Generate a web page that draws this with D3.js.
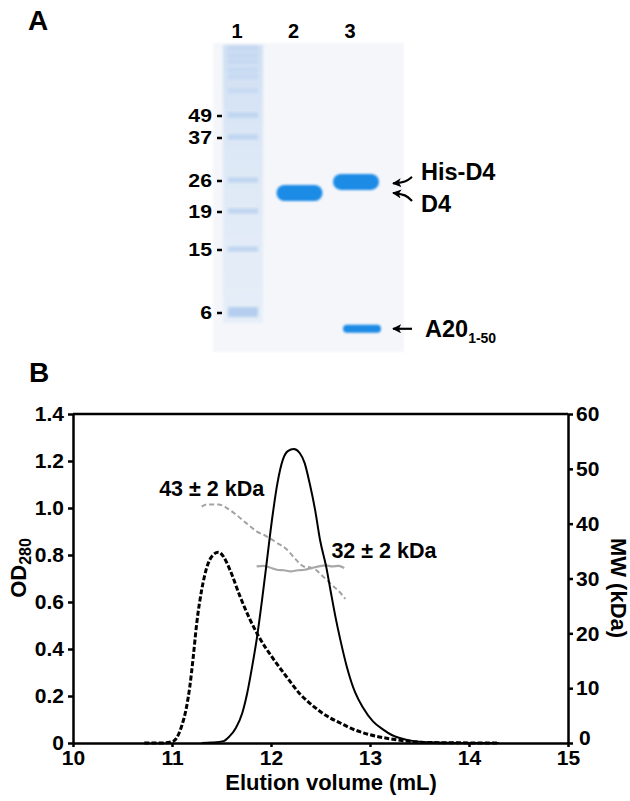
<!DOCTYPE html>
<html><head><meta charset="utf-8">
<script src="https://cdn.jsdelivr.net/npm/d3@7"></script>
<style>
body{margin:0;background:#fff;}
svg{display:block;}
text{font-family:"Liberation Sans",Arial,Helvetica,sans-serif;font-weight:bold;fill:#000;}
</style></head><body>
<svg id="fig" width="630" height="801"></svg>
<script>
// ---------------- Panel A (gel) data ----------------
const laneLabels = ["1", "2", "3"];
const markerKDa = [49, 37, 26, 19, 15, 6];
const ladderExtraKDa = [115, 105, 97, 87, 80, 67];
const bandLane = ["3", "2", "3"];
const bandKDa = [25.5, 22.8, 4.7];
const bandNames = ["His-D4", "D4", "A20"];
const bandSub = ["", "", "1-50"];

// ---------------- Panel B (SEC-MALS) data ----------------
const xTicks = [10, 11, 12, 13, 14, 15];
const odTicks = [0, 0.2, 0.4, 0.6, 0.8, 1.0, 1.2, 1.4];
const mwTicks = [0, 10, 20, 30, 40, 50, 60];

const solidVol = [11.30, 11.40, 11.52, 11.58, 11.645, 11.71, 11.76, 11.81, 11.86, 11.91, 11.96, 12.01, 12.065, 12.12, 12.17, 12.23, 12.29, 12.34, 12.39, 12.445, 12.495, 12.56, 12.60, 12.65, 12.70, 12.765, 12.85, 12.93, 13.03, 13.13, 13.22, 13.30, 13.44, 13.61, 13.8, 14.0, 14.3];
const solidOD  = [0, 0.002, 0.008, 0.028, 0.064, 0.128, 0.213, 0.326, 0.454, 0.61, 0.78, 0.95, 1.106, 1.206, 1.242, 1.251, 1.234, 1.191, 1.106, 0.993, 0.865, 0.745, 0.652, 0.539, 0.44, 0.326, 0.215, 0.15, 0.092, 0.058, 0.034, 0.021, 0.008, 0.003, 0.001, 0, 0];

const dashVol = [10.72, 10.9, 11.0, 11.046, 11.097, 11.148, 11.18, 11.215, 11.25, 11.30, 11.35, 11.417, 11.468, 11.518, 11.585, 11.687, 11.788, 11.88, 12.02, 12.16, 12.29, 12.39, 12.60, 12.70, 12.80, 13.0, 13.2, 13.4, 13.6, 13.8, 14.3];
const dashOD  = [0, 0, 0.005, 0.021, 0.071, 0.156, 0.24, 0.368, 0.51, 0.652, 0.745, 0.801, 0.812, 0.794, 0.737, 0.624, 0.525, 0.45, 0.36, 0.28, 0.21, 0.17, 0.106, 0.085, 0.064, 0.035, 0.018, 0.007, 0.002, 0.001, 0];

const mwDashVol = [11.30, 11.35, 11.47, 11.55, 11.65, 11.75, 11.855, 11.955, 12.06, 12.16, 12.24, 12.33, 12.40, 12.46, 12.50, 12.56, 12.63, 12.70, 12.75];
const mwDash    = [43.1, 43.5, 43.5, 42.9, 41.6, 40.1, 38.6, 37.7, 36.5, 35.3, 33.7, 32.2, 32.0, 31.5, 30.8, 29.8, 28.6, 27.4, 26.3];

const mwSolidVol = [11.855, 11.92, 11.99, 12.06, 12.13, 12.20, 12.27, 12.34, 12.41, 12.48, 12.55, 12.62, 12.68, 12.74];
const mwSolid    = [32.2, 32.3, 32.0, 31.6, 31.5, 31.3, 31.5, 31.6, 31.9, 32.2, 32.4, 32.2, 32.3, 31.9];

const annotTexts = ["43 \u00B1 2 kDa", "32 \u00B1 2 kDa"];
const annotVol = [10.87, 12.61];
const annotMW = [45.0, 33.7];

// ---------------- drawing ----------------
const svg = d3.select("#fig");
const defs = svg.append("defs");
defs.append("filter").attr("id", "blurBand").attr("x", "-20%").attr("y", "-50%").attr("width", "140%").attr("height", "200%")
  .append("feGaussianBlur").attr("stdDeviation", 0.9);
defs.append("filter").attr("id", "blurSoft").attr("x", "-30%").attr("y", "-30%").attr("width", "160%").attr("height", "160%")
  .append("feGaussianBlur").attr("stdDeviation", 1.8);
defs.append("filter").attr("id", "blurGel").attr("x", "-5%").attr("y", "-5%").attr("width", "110%").attr("height", "110%")
  .append("feGaussianBlur").attr("stdDeviation", 1.2);
const smearGrad = defs.append("linearGradient").attr("id", "smear").attr("x1", 0).attr("y1", 0).attr("x2", 0).attr("y2", 1);
smearGrad.append("stop").attr("offset", "0%").attr("stop-color", "#cfdff3");
smearGrad.append("stop").attr("offset", "40%").attr("stop-color", "#dde8f6");
smearGrad.append("stop").attr("offset", "100%").attr("stop-color", "#e6eef8");
defs.append("marker").attr("id", "arrowHead").attr("viewBox", "0 0 10 10").attr("refX", 9).attr("refY", 5)
  .attr("markerWidth", 9).attr("markerHeight", 9).attr("markerUnits", "userSpaceOnUse").attr("orient", "auto")
  .append("path").attr("d", "M0,0 L10,5 L0,10 L2.5,5 Z").attr("fill", "#000");

// Panel labels
svg.append("text").attr("x", 28).attr("y", 30).style("font-size", "28px").text("A");
svg.append("text").attr("x", 29).attr("y", 382).style("font-size", "28px").text("B");

// ---- Gel ----
const gel = svg.append("g");
const laneX = d3.scalePoint().domain(laneLabels).range([243, 356]);
const gelY = d3.scaleLog().domain(markerKDa).range([115, 137, 180, 211, 249, 312]);

gel.append("rect").attr("x", 213).attr("y", 43).attr("width", 191).attr("height", 309)
  .attr("fill", "#f5f6fa").attr("filter", "url(#blurGel)");
// lane 1 smear
gel.append("rect").attr("x", laneX("1") - 20).attr("y", 45).attr("width", 40).attr("height", 278)
  .attr("fill", "url(#smear)").attr("filter", "url(#blurSoft)");
// ladder bands
gel.selectAll("rect.ladder").data(markerKDa.concat(ladderExtraKDa)).join("rect").attr("class", "ladder")
  .attr("x", laneX("1") - 15).attr("width", 30)
  .attr("y", d => gelY(d) - (d === 6 ? 5 : 2.5))
  .attr("height", d => d === 6 ? 10 : 5)
  .attr("fill", d => d === 6 ? "#a9c6ec" : "#b6cfee")
  .attr("opacity", d => markerKDa.includes(d) ? 0.8 : 0.45)
  .attr("filter", "url(#blurSoft)");

// lane numbers
gel.selectAll("text.lane").data(laneLabels).join("text").attr("class", "lane")
  .attr("x", d => laneX(d) - 6).attr("y", 38).attr("text-anchor", "middle")
  .style("font-size", "20px").text(d => d);

// marker labels + dashes
gel.selectAll("text.mk").data(markerKDa).join("text").attr("class", "mk")
  .attr("x", 212).attr("y", d => gelY(d) + 7.5).attr("text-anchor", "end")
  .style("font-size", "19px").attr("transform", d => `translate(212,0) scale(1.12,1) translate(-212,0)`)
  .text(d => d);
gel.selectAll("line.mk").data(markerKDa).join("line").attr("class", "mk")
  .attr("x1", 217).attr("x2", 222).attr("y1", d => gelY(d) + 1).attr("y2", d => gelY(d) + 1)
  .attr("stroke", "#000").attr("stroke-width", 2.5);

// protein bands
const bands = bandKDa.map((k, i) => ({ k, lane: bandLane[i], name: bandNames[i], sub: bandSub[i] }));
gel.selectAll("rect.band").data(bands).join("rect").attr("class", "band")
  .attr("x", d => laneX(d.lane) - (d.k < 10 ? 16 : 23) + (d.k < 10 ? 3 : 0))
  .attr("width", d => d.k < 10 ? 38 : 46)
  .attr("y", d => gelY(d.k) - (d.k < 10 ? 4 : 8))
  .attr("height", d => d.k < 10 ? 8 : 16)
  .attr("rx", d => d.k < 10 ? 4 : 8)
  .attr("fill", "#1b8be6").attr("filter", "url(#blurBand)");

// arrows and band labels
const arrowTipX = 393, arrowTailX = 412;
bands.forEach((d, i) => {
  const yb = gelY(d.k);
  let tipY, tailY, labY;
  if (d.name === "His-D4") { tipY = yb + 1.5; tailY = yb - 5; labY = yb - 2; }
  else if (d.name === "D4") { tipY = yb; tailY = yb + 8; labY = yb + 19; }
  else { tipY = yb; tailY = yb; labY = yb + 8; }
  gel.append("path")
    .attr("d", d3.line().curve(d3.curveBasis)([[arrowTailX, tailY], [arrowTailX - 6, tipY + (tailY - tipY) * 0.2], [arrowTipX, tipY]]))
    .attr("fill", "none").attr("stroke", "#000").attr("stroke-width", 2.2).attr("marker-end", "url(#arrowHead)");
  const t = gel.append("text").attr("x", d.sub ? 425 : 421).attr("y", labY).style("font-size", "23.5px").text(d.name);
  if (d.sub) t.append("tspan").attr("dy", 6).style("font-size", "14px").text(d.sub);
});

// ---- Chart B ----
const x = d3.scaleLinear().domain([10, 15]).range([73, 568]);
const y = d3.scaleLinear().domain([0, 1.4]).range([743, 414]);
const yMW = d3.scaleLinear().domain([0, 60]).range([743, 414]);
const chart = svg.append("g");

function styleAxis(g) {
  g.select(".domain").attr("stroke", "#000").attr("stroke-width", 2.5);
  g.selectAll(".tick line").attr("stroke", "#000").attr("stroke-width", 2.5);
  g.selectAll(".tick text").attr("fill", "#000").style("font-size", "21px").style("font-weight", "bold")
    .style("font-family", "'Liberation Sans', Arial, sans-serif");
}
chart.append("g").attr("transform", "translate(0,743)")
  .call(d3.axisBottom(x).tickValues(xTicks).tickSize(4).tickSizeOuter(0).tickPadding(3).tickFormat(d3.format("d")))
  .call(styleAxis);
chart.append("g").attr("transform", "translate(73,0)")
  .call(d3.axisLeft(y).tickValues(odTicks).tickSize(5).tickSizeOuter(0).tickPadding(4)
    .tickFormat(d => d === 0 ? "0" : d3.format(".1f")(d)))
  .call(styleAxis);
const rAx = chart.append("g").attr("transform", "translate(568,0)")
  .call(d3.axisRight(yMW).tickValues(mwTicks).tickSize(5).tickSizeOuter(0).tickPadding(3).tickFormat(d3.format("d")))
  .call(styleAxis);
// keep the corner "0" clear of the bottom "15"
rAx.selectAll(".tick").filter(d => d === 0).select("text").attr("dx", 3).attr("dy", "0.05em");

chart.append("line").attr("x1", x(10)).attr("x2", x(15)).attr("y1", y(1.4)).attr("y2", y(1.4))
  .attr("stroke", "#000").attr("stroke-width", 2.5);

// gray MW traces
const lineMW = d3.line().x(d => x(d[0])).y(d => yMW(d[1])).curve(d3.curveMonotoneX);
chart.append("path").datum(d3.zip(mwDashVol, mwDash)).attr("d", lineMW)
  .attr("fill", "none").attr("stroke", "#a3a3a3").attr("stroke-width", 2).attr("stroke-dasharray", "5,3");
chart.append("path").datum(d3.zip(mwSolidVol, mwSolid)).attr("d", lineMW)
  .attr("fill", "none").attr("stroke", "#a8a8a8").attr("stroke-width", 2.2);

// OD traces
const lineOD = d3.line().x(d => x(d[0])).y(d => y(d[1])).curve(d3.curveMonotoneX);
chart.append("path").datum(d3.zip(solidVol, solidOD)).attr("d", lineOD)
  .attr("fill", "none").attr("stroke", "#000").attr("stroke-width", 2);
chart.append("path").datum(d3.zip(dashVol, dashOD)).attr("d", lineOD)
  .attr("fill", "none").attr("stroke", "#000").attr("stroke-width", 3).attr("stroke-dasharray", "5,2.2");

// annotations
chart.selectAll("text.annot").data(annotTexts).join("text").attr("class", "annot")
  .attr("x", (d, i) => x(annotVol[i])).attr("y", (d, i) => yMW(annotMW[i]))
  .style("font-size", "21.5px").text(d => d);

// axis titles
chart.append("text").attr("x", 331).attr("y", 790).attr("text-anchor", "middle").style("font-size", "22px")
  .text("Elution volume (mL)");
const od = chart.append("text").attr("transform", "translate(26,568) rotate(-90)").attr("text-anchor", "middle")
  .style("font-size", "22px").text("OD");
od.append("tspan").attr("dy", 5).style("font-size", "16px").text("280");
chart.append("text").attr("transform", "translate(611,588) rotate(90)").attr("text-anchor", "middle")
  .style("font-size", "22px").text("MW (kDa)");
</script>
</body></html>
